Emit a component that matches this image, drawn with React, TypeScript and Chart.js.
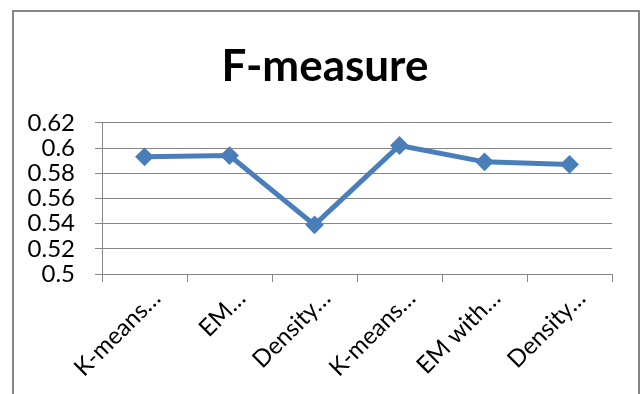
import { useEffect, useRef } from "react";
import { Chart, registerables } from "chart.js";

Chart.register(...registerables);

// Clustering methods (labels as shown, truncated) and their F-measure scores
const categories = ["K-means…", "EM…", "Density…", "K-means…", "EM with…", "Density…"];
const fMeasure = [0.593, 0.594, 0.539, 0.602, 0.589, 0.587];
const yTickValues = [0.5, 0.52, 0.54, 0.56, 0.58, 0.6, 0.62];
const yTickLabels = ["0.5", "0.52", "0.54", "0.56", "0.58", "0.6", "0.62"];

const GREY = "#868686";
const BLUE = "#4A7EBB";
const FONT = "Lato";

export default function App() {
  const ref = useRef<HTMLCanvasElement>(null);

  useEffect(() => {
    const chart = new Chart(ref.current!, {
      type: "line",
      data: {
        labels: categories,
        datasets: [
          {
            data: fMeasure,
            borderColor: BLUE,
            backgroundColor: BLUE,
            borderWidth: 5,
            pointStyle: "rectRot",
            pointRadius: 8,
            pointBorderWidth: 2,
            pointBackgroundColor: BLUE,
            pointBorderColor: BLUE,
            tension: 0,
          },
        ],
      },
      options: {
        animation: false,
        responsive: false,
        layout: { padding: { left: 7, right: 0, top: 0, bottom: 0 } },
        plugins: {
          legend: { display: false },
          tooltip: { enabled: false },
          title: {
            display: true,
            text: "F-measure",
            color: "#000",
            font: { family: FONT, size: 44, weight: "bold", lineHeight: 1.2 },
            padding: { top: 40, bottom: 30 },
          },
        },
        scales: {
          x: {
            offset: true,
            grid: { offset: true, drawOnChartArea: false, color: GREY, tickLength: 8 },
            border: { color: GREY },
            ticks: {
              color: "#000",
              font: { family: FONT, size: 24 },
              maxRotation: 45,
              minRotation: 45,
              autoSkip: false,
              labelOffset: 12,
              padding: 2,
            },
            afterFit: (s: any) => {
              s.height = 120;
            },
          },
          y: {
            min: 0.5,
            max: 0.62,
            afterBuildTicks: (s: any) => {
              s.ticks = yTickValues.map((v) => ({ value: v }));
            },
            ticks: {
              color: "#000",
              font: { family: FONT, size: 24 },
              padding: 20,
              autoSkip: false,
              callback: (_v: any, i: number) => yTickLabels[i],
            },
            grid: { color: GREY, tickLength: 7 },
            border: { color: GREY },
            afterFit: (s: any) => {
              s.width = 95;
            },
          },
          // empty right-hand gutter that keeps the plot clear of the frame
          gutter: {
            type: "linear",
            axis: "y",
            position: "right",
            grid: { display: false },
            ticks: { display: false },
            border: { display: false },
            afterFit: (s: any) => {
              s.width = 31;
            },
          },
        },
      },
    });
    return () => chart.destroy();
  }, []);

  return (
    <div
      style={{
        position: "absolute",
        left: 0,
        top: 0,
        width: 643,
        height: 394,
        background: "#fff",
        overflow: "hidden",
      }}
    >
      <div
        style={{
          position: "absolute",
          left: 12,
          top: 10,
          width: 624,
          height: 400,
          border: `2px solid ${GREY}`,
        }}
      />
      <canvas
        ref={ref}
        width={643}
        height={394}
        style={{ position: "absolute", left: 0, top: 0 }}
      />
    </div>
  );
}
